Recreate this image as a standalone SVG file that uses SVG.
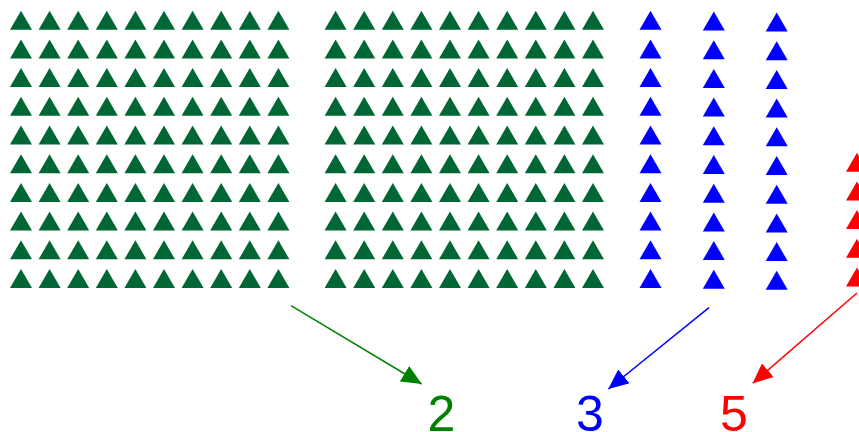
<svg xmlns="http://www.w3.org/2000/svg" xmlns:xlink="http://www.w3.org/1999/xlink" width="859" height="432" viewBox="0 0 859 432">
<style>
.lbl{font-family:"Liberation Sans",Arial,sans-serif;font-size:50px;text-anchor:middle}
.conn{fill:none;stroke-width:1.5}
</style>
<defs>
<path id="t" d="M0,0 L11,19 L-11,19 Z"/>
<g id="row">
<use href="#t" x="0"/><use href="#t" x="28.6"/><use href="#t" x="57.2"/><use href="#t" x="85.8"/><use href="#t" x="114.4"/><use href="#t" x="143"/><use href="#t" x="171.6"/><use href="#t" x="200.2"/><use href="#t" x="228.8"/><use href="#t" x="257.4"/>
</g>
<g id="grid">
<use href="#row" y="0"/><use href="#row" y="28.7"/><use href="#row" y="57.4"/><use href="#row" y="86.1"/><use href="#row" y="114.8"/><use href="#row" y="143.5"/><use href="#row" y="172.2"/><use href="#row" y="200.9"/><use href="#row" y="229.6"/><use href="#row" y="258.3"/>
</g>
<g id="col">
<use href="#t" y="0"/><use href="#t" y="28.7"/><use href="#t" y="57.4"/><use href="#t" y="86.1"/><use href="#t" y="114.8"/><use href="#t" y="143.5"/><use href="#t" y="172.2"/><use href="#t" y="200.9"/><use href="#t" y="229.6"/><use href="#t" y="258.3"/>
</g>
<marker id="ag" markerUnits="userSpaceOnUse" markerWidth="20" markerHeight="18" refX="20" refY="9" orient="auto"><path d="M0,0 L20,9 L0,18 Z" fill="#008000"/></marker>
<marker id="ab" markerUnits="userSpaceOnUse" markerWidth="20" markerHeight="18" refX="20" refY="9" orient="auto"><path d="M0,0 L20,9 L0,18 Z" fill="#0000ff"/></marker>
<marker id="ar" markerUnits="userSpaceOnUse" markerWidth="20" markerHeight="18" refX="20" refY="9" orient="auto"><path d="M0,0 L20,9 L0,18 Z" fill="#ff0000"/></marker>
</defs>
<g id="green-grid-1" fill="#006633"><use href="#grid" x="21" y="10.7"/></g>
<g id="green-grid-2" fill="#006633"><use href="#grid" x="335.6" y="10.7"/></g>
<g id="blue-columns" fill="#0000ff">
<use href="#col" x="650.5" y="10.7"/>
<use href="#col" x="713.8" y="11.5"/>
<use href="#col" x="776.7" y="12.5"/>
</g>
<g id="red-column" fill="#ff0000">
<use href="#t" x="857" y="152.7"/><use href="#t" x="857" y="181.4"/><use href="#t" x="857" y="210.1"/><use href="#t" x="857" y="238.8"/><use href="#t" x="857" y="267.5"/>
</g>
<g id="connectors">
<line class="conn" x1="291" y1="305.7" x2="421.7" y2="384" stroke="#008000" marker-end="url(#ag)"/>
<line class="conn" x1="709" y1="307.7" x2="608.3" y2="389" stroke="#0000ff" marker-end="url(#ab)"/>
<line class="conn" x1="857" y1="293" x2="752.7" y2="383.3" stroke="#ff0000" marker-end="url(#ar)"/>
</g>
<g id="label-2"><text class="lbl" x="441.5" y="430.5" fill="#008000">2</text></g>
<g id="label-3"><text class="lbl" x="590" y="430.5" fill="#0000ff">3</text></g>
<g id="label-5"><text class="lbl" x="734" y="430.5" fill="#ff0000">5</text></g>
</svg>
